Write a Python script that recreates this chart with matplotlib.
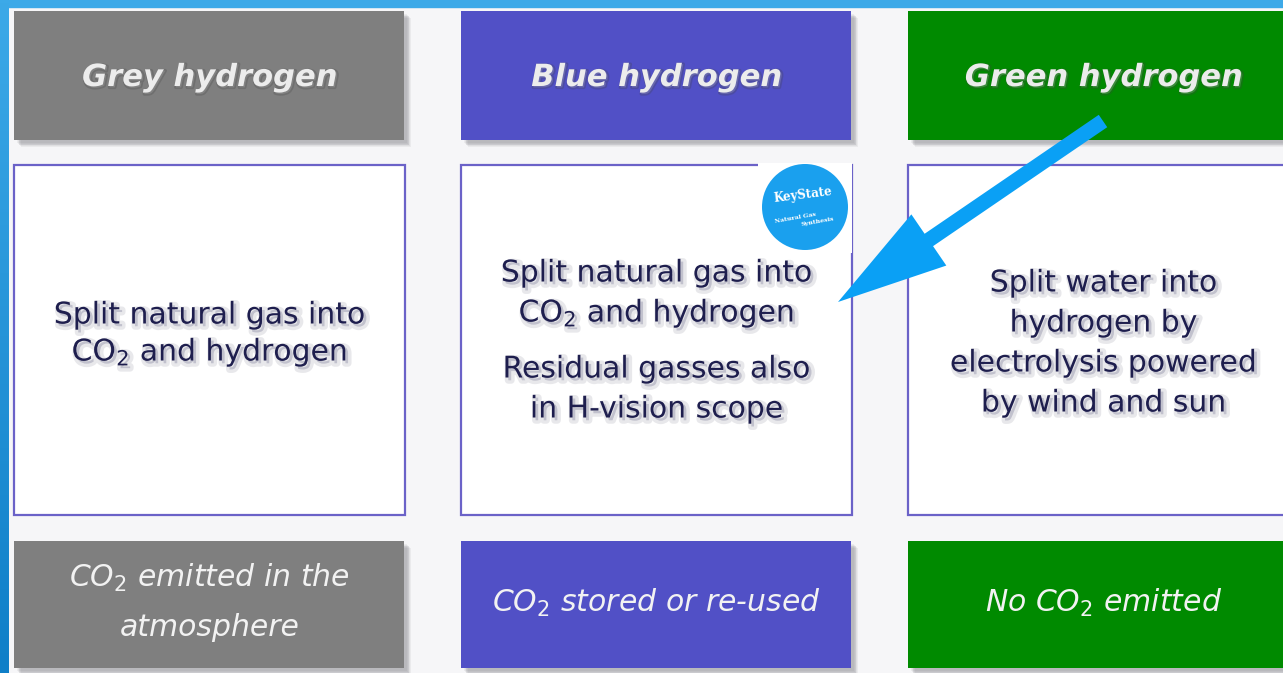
import numpy as np
import matplotlib
matplotlib.use("Agg")
import matplotlib.pyplot as plt
import matplotlib.patheffects as pe
from matplotlib.patches import Rectangle, Circle, FancyArrow

# ---- content ----
titles = ["Grey hydrogen", "Blue hydrogen", "Green hydrogen"]
title_colors = ["#7f7f7f", "#5150c6", "#008a00"]

descriptions = [
    [["Split natural gas into", "CO$_2$ and hydrogen"]],
    [["Split natural gas into", "CO$_2$ and hydrogen"],
     ["Residual gasses also", "in H-vision scope"]],
    [["Split water into", "hydrogen by", "electrolysis powered", "by wind and sun"]],
]

footers = [
    ["CO$_\\mathit{2}$ emitted in the", "atmosphere"],
    ["CO$_\\mathit{2}$ stored or re-used"],
    ["No CO$_\\mathit{2}$ emitted"],
]

logo_name = "KeyState"
logo_sub = ["Natural Gas", "Synthesis"]

# ---- layout (pixels) ----
W, H = 1283, 673
col_left = [14, 461, 908]
box_w = 391
head_top, head_bot = 11, 140
body_top, body_bot = 165, 515
foot_top, foot_bot = 541, 668
line_gap = 40
para_gap = 56
body_shift = [-6, 0, 2]

fig = plt.figure(figsize=(W / 100, H / 100), dpi=100)
ax = fig.add_axes([0, 0, 1, 1])
ax.set_xlim(0, W)
ax.set_ylim(H, 0)
ax.axis("off")

# background
ax.add_patch(Rectangle((0, 0), W, H, color="#f6f6f8", zorder=0))

# blue frame: top strip and left gradient strip
ax.add_patch(Rectangle((0, 0), W, 7, color="#3ca9e8", zorder=10))
grad = np.linspace(0, 1, 200).reshape(-1, 1)
cmap = matplotlib.colors.LinearSegmentedColormap.from_list("edge", ["#3ca9e8", "#0f7fc8"])
ax.imshow(grad, cmap=cmap, extent=[0, 9, H, 0], aspect="auto", zorder=10)


def shadow(x, y, w, h, z):
    # soft drop shadow made of stacked translucent rects
    for k in range(6):
        ax.add_patch(Rectangle((x + 3 + k * 0.8, y + 3 + k * 0.8), w, h,
                               color="#505058", alpha=0.07, lw=0, zorder=z))


txt_shadow = [pe.Stroke(linewidth=5, foreground="#9a9aa8", alpha=0.22, offset=(2, -2)),
              pe.Normal()]
head_shadow = [pe.Stroke(linewidth=2.5, foreground="#404040", alpha=0.25, offset=(1, -1)),
               pe.Normal()]

for i in range(3):
    x0 = col_left[i]
    cx = x0 + box_w / 2

    # header box
    shadow(x0, head_top, box_w - 1, head_bot - head_top, 1)
    ax.add_patch(Rectangle((x0, head_top), box_w - 1, head_bot - head_top,
                           color=title_colors[i], lw=0, zorder=2))
    ax.text(cx, (head_top + head_bot) / 2 + 2, titles[i], ha="center", va="center",
            fontsize=22, fontweight="bold", fontstyle="italic", color="#ececec",
            family="DejaVu Sans", path_effects=head_shadow, zorder=3)

    # body box
    ax.add_patch(Rectangle((x0, body_top), box_w, body_bot - body_top,
                           facecolor="white", edgecolor="#6b62c8", lw=1.6, zorder=2))
    paras = descriptions[i]
    total = sum(len(p) for p in paras) - len(paras)
    total_h = total * line_gap + (len(paras) - 1) * para_gap
    y = (body_top + body_bot) / 2 - total_h / 2 + 1 + body_shift[i]
    gap = line_gap if len(paras) > 1 or len(paras[0]) > 2 else 37
    for j, p in enumerate(paras):
        for k, line in enumerate(p):
            ax.text(cx, y, line, ha="center", va="center", fontsize=21.5,
                    color="#1e1e4e", family="DejaVu Sans",
                    path_effects=txt_shadow, zorder=4)
            if k < len(p) - 1:
                y += gap
        y += para_gap

    # footer box
    shadow(x0, foot_top, box_w - 1, foot_bot - foot_top, 1)
    ax.add_patch(Rectangle((x0, foot_top), box_w - 1, foot_bot - foot_top,
                           color=title_colors[i], lw=0, zorder=2))
    lines = footers[i]
    fy = (foot_top + foot_bot) / 2 - (len(lines) - 1) * 50 / 2 - 2
    for line in lines:
        ax.text(cx, fy, line, ha="center", va="center", fontsize=21.5,
                fontstyle="italic", color="#f2f2f2", family="DejaVu Sans", zorder=3)
        fy += 50

# logo
ax.add_patch(Rectangle((758, 163), 94, 90, color="white", lw=0, zorder=5))
ax.add_patch(Circle((805, 207), 43, color="#1aa0ee", lw=0, zorder=6))
ax.text(803, 195, logo_name, ha="center", va="center", fontsize=8.5, fontweight="bold",
        color="white", family="DejaVu Serif", rotation=7, zorder=7)
ax.text(795, 218, logo_sub[0], ha="center", va="center", fontsize=4.5, fontweight="bold",
        color="white", family="DejaVu Serif", rotation=10, zorder=7)
ax.text(818, 222, logo_sub[1], ha="center", va="center", fontsize=4.5, fontweight="bold",
        color="white", family="DejaVu Serif", rotation=10, zorder=7)

# blue arrow
ax.add_patch(FancyArrow(1103, 121, 838 - 1103, 302 - 121, width=15, head_width=62,
                        head_length=110, length_includes_head=True,
                        color="#0aa0f5", lw=0, zorder=8))

fig.savefig("out.png", dpi=100)
